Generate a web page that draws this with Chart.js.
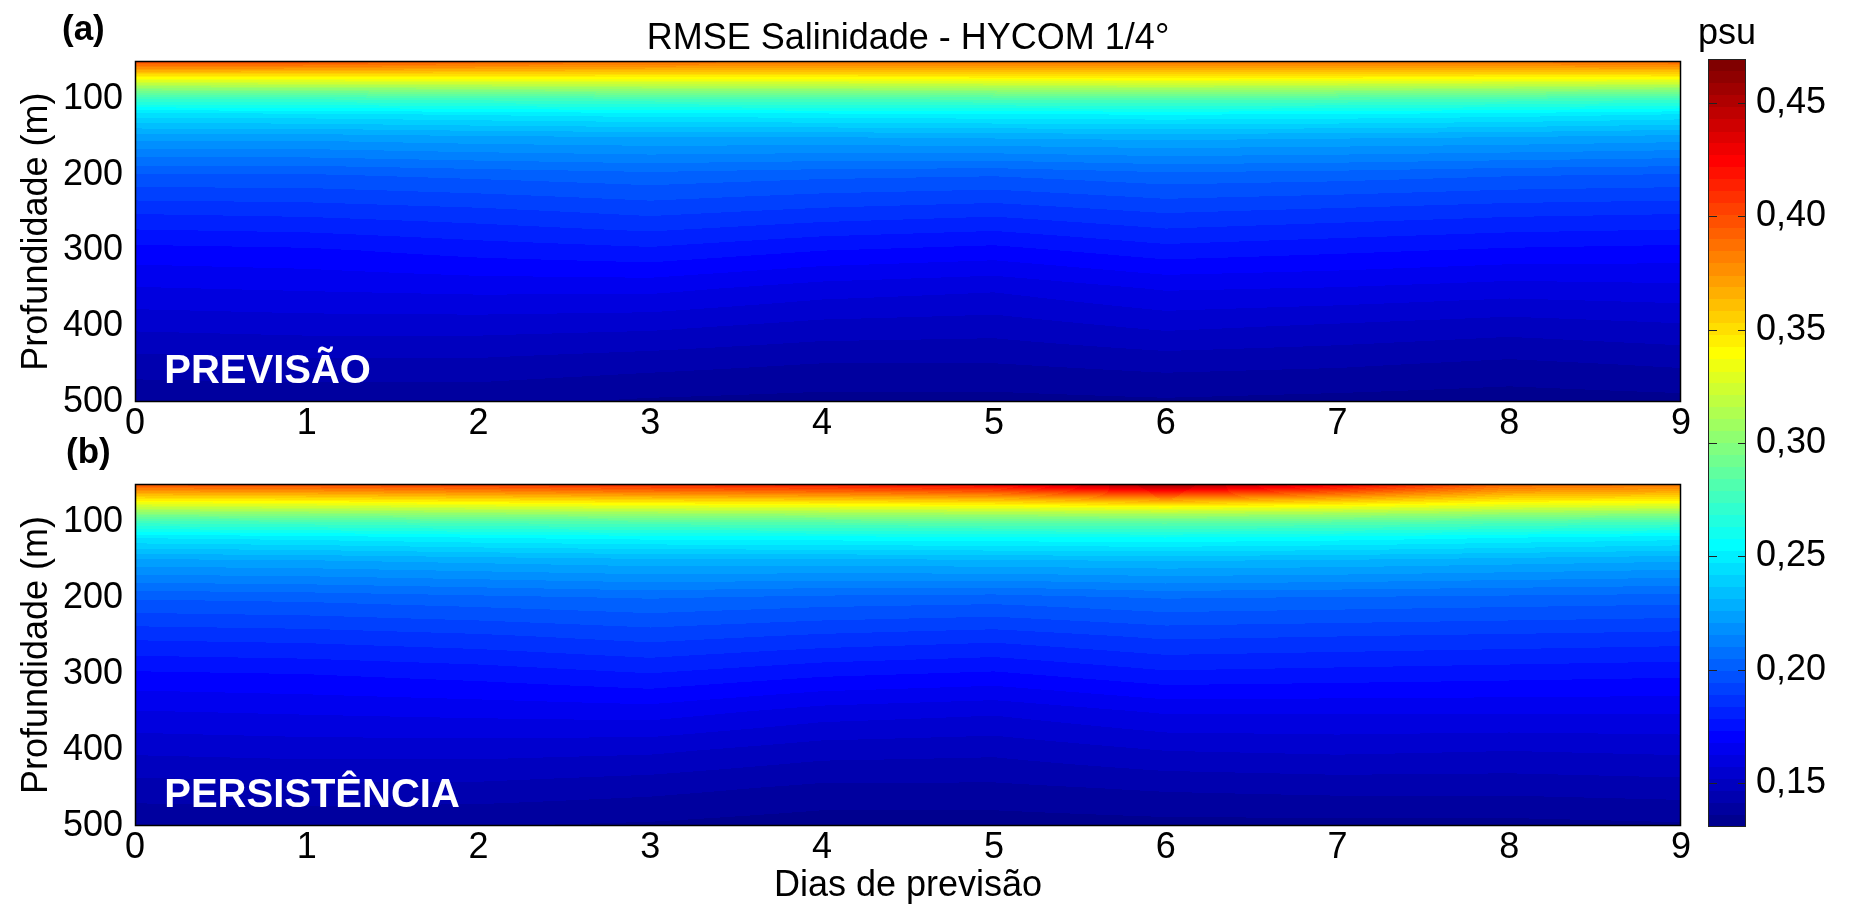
<!DOCTYPE html>
<html>
<head>
<meta charset="utf-8">
<title>RMSE Salinidade - HYCOM 1/4°</title>
<script src="https://cdn.jsdelivr.net/npm/chart.js@4.4.1/dist/chart.umd.min.js"></script>
<style>
  html, body { margin: 0; padding: 0; background: #fff; overflow: hidden; }
  #wrap { position: relative; width: 1857px; height: 914px; }
  canvas { position: absolute; }
</style>
</head>
<body>
<div id="wrap">
  <canvas id="panelA" width="1700" height="450" style="left:0;top:0"></canvas>
  <canvas id="panelB" width="1700" height="484" style="left:0;top:430px"></canvas>
  <canvas id="cbar" width="157" height="914" style="left:1700px;top:0"></canvas>
</div>
<script>
// forecast days (columns) and depth levels in metres (rows)
const days = [0, 1, 2, 3, 4, 5, 6, 7, 8, 9];
const depths = [50, 60, 70, 80, 90, 100, 120, 150, 200, 250, 300, 350, 400, 450, 500];

// RMSE of salinity (psu), one row per depth, one value per day - forecast
const rmsePrevisao = [
  [0.402, 0.400, 0.394, 0.389, 0.387, 0.386, 0.387, 0.386, 0.387, 0.392],
  [0.374, 0.373, 0.370, 0.368, 0.367, 0.367, 0.368, 0.367, 0.367, 0.369],
  [0.346, 0.346, 0.345, 0.345, 0.345, 0.346, 0.347, 0.346, 0.345, 0.345],
  [0.319, 0.320, 0.321, 0.322, 0.322, 0.323, 0.324, 0.323, 0.322, 0.320],
  [0.293, 0.294, 0.296, 0.298, 0.299, 0.300, 0.301, 0.300, 0.298, 0.295],
  [0.273, 0.274, 0.276, 0.278, 0.279, 0.280, 0.281, 0.280, 0.278, 0.275],
  [0.245, 0.246, 0.248, 0.250, 0.251, 0.252, 0.253, 0.252, 0.250, 0.247],
  [0.223, 0.223, 0.225, 0.226, 0.226, 0.227, 0.228, 0.227, 0.226, 0.224],
  [0.199, 0.199, 0.201, 0.203, 0.201, 0.200, 0.203, 0.202, 0.200, 0.199],
  [0.184, 0.185, 0.187, 0.190, 0.187, 0.185, 0.189, 0.187, 0.185, 0.184],
  [0.171, 0.172, 0.175, 0.177, 0.173, 0.171, 0.176, 0.174, 0.172, 0.171],
  [0.162, 0.163, 0.164, 0.164, 0.160, 0.158, 0.163, 0.162, 0.160, 0.161],
  [0.153, 0.154, 0.154, 0.153, 0.150, 0.149, 0.153, 0.151, 0.149, 0.151],
  [0.144, 0.145, 0.145, 0.143, 0.141, 0.141, 0.143, 0.142, 0.140, 0.142],
  [0.137, 0.137, 0.137, 0.135, 0.134, 0.134, 0.135, 0.134, 0.133, 0.134]
];

// same grid for the persistence run
const rmsePersistencia = [
  [0.400, 0.402, 0.407, 0.413, 0.418, 0.428, 0.462, 0.430, 0.392, 0.386],
  [0.373, 0.375, 0.380, 0.386, 0.390, 0.396, 0.418, 0.398, 0.372, 0.368],
  [0.347, 0.349, 0.353, 0.357, 0.360, 0.364, 0.376, 0.365, 0.350, 0.347],
  [0.322, 0.324, 0.327, 0.330, 0.332, 0.335, 0.340, 0.335, 0.327, 0.324],
  [0.297, 0.299, 0.302, 0.304, 0.306, 0.308, 0.310, 0.307, 0.302, 0.299],
  [0.276, 0.278, 0.281, 0.283, 0.285, 0.286, 0.287, 0.285, 0.281, 0.278],
  [0.248, 0.250, 0.253, 0.255, 0.256, 0.257, 0.258, 0.256, 0.253, 0.250],
  [0.225, 0.226, 0.228, 0.230, 0.230, 0.231, 0.232, 0.231, 0.229, 0.227],
  [0.200, 0.201, 0.203, 0.205, 0.203, 0.202, 0.205, 0.204, 0.203, 0.202],
  [0.185, 0.186, 0.188, 0.191, 0.188, 0.186, 0.190, 0.189, 0.188, 0.187],
  [0.172, 0.173, 0.175, 0.178, 0.174, 0.172, 0.177, 0.176, 0.175, 0.174],
  [0.162, 0.163, 0.164, 0.165, 0.160, 0.158, 0.163, 0.163, 0.163, 0.163],
  [0.153, 0.154, 0.154, 0.153, 0.149, 0.148, 0.152, 0.153, 0.152, 0.153],
  [0.144, 0.145, 0.145, 0.143, 0.140, 0.140, 0.142, 0.143, 0.143, 0.144],
  [0.137, 0.137, 0.136, 0.135, 0.133, 0.133, 0.134, 0.134, 0.134, 0.135]
];

// axis ticks and colour limits
const xTicks = [0, 1, 2, 3, 4, 5, 6, 7, 8, 9];
const yTicks = [100, 200, 300, 400, 500];
const cbarTicks = [0.15, 0.20, 0.25, 0.30, 0.35, 0.40, 0.45];
const cbarMin = 0.1306;
const cbarMax = 0.4694;

const family = "'Liberation Sans', Arial, Helvetica, sans-serif";
const tickFont = { family: family, size: 36, lineHeight: 1 };
const labelFont = { family: family, size: 36, weight: 'normal', lineHeight: 1.2 };

// matlab style jet colormap with m colours
function jet(m) {
  const n = Math.ceil(m / 4);
  const u = [];
  for (let i = 1; i <= n; i++) u.push(i / n);
  for (let i = 1; i < n; i++) u.push(1);
  for (let i = n; i >= 1; i--) u.push(i / n);
  const g0 = Math.ceil(n / 2) - (m % 4 === 1 ? 1 : 0);
  const map = [];
  for (let i = 0; i < m; i++) map.push([0, 0, 0]);
  u.forEach(function(val, k) {
    const g = g0 + k + 1, r = g + n, b = g - n;
    if (r <= m) map[r - 1][0] = val;
    if (g <= m) map[g - 1][1] = val;
    if (b >= 1) map[b - 1][2] = val;
  });
  return map.map(c => c.map(v => Math.round(v * 255)));
}
const colormap = jet(64);

function colorOf(v) {
  let k = Math.floor((v - cbarMin) / (cbarMax - cbarMin) * colormap.length);
  if (k < 0) k = 0;
  if (k > colormap.length - 1) k = colormap.length - 1;
  return colormap[k];
}

// index of the grid cell holding v and the fraction inside it
function findCell(arr, v) {
  if (v <= arr[0]) return [0, 0];
  for (let i = 0; i < arr.length - 1; i++) {
    if (v <= arr[i + 1]) return [i, (v - arr[i]) / (arr[i + 1] - arr[i])];
  }
  return [arr.length - 2, 1];
}

// paints the grid inside the chart area, pixel by pixel through the scales
function heatmapPlugin(grid, letter, letterPos, name) {
  return {
    id: 'heatmap',
    beforeDatasetsDraw(chart) {
      const { ctx, chartArea: a, scales: { x, y } } = chart;
      const left = Math.round(a.left), top = Math.round(a.top);
      const w = Math.round(a.right) - left, h = Math.round(a.bottom) - top;
      const off = document.createElement('canvas');
      off.width = w;
      off.height = h;
      const octx = off.getContext('2d');
      const img = octx.createImageData(w, h);
      const cols = [];
      for (let i = 0; i < w; i++) cols.push(findCell(days, x.getValueForPixel(left + i + 0.5)));
      for (let j = 0; j < h; j++) {
        const cell = findCell(depths, y.getValueForPixel(top + j + 0.5));
        const row0 = grid[cell[0]], row1 = grid[cell[0] + 1], ty = cell[1];
        for (let i = 0; i < w; i++) {
          const c = cols[i][0], tx = cols[i][1];
          const v0 = row0[c] + (row0[c + 1] - row0[c]) * tx;
          const v1 = row1[c] + (row1[c + 1] - row1[c]) * tx;
          const rgb = colorOf(v0 + (v1 - v0) * ty);
          const p = (j * w + i) * 4;
          img.data[p] = rgb[0];
          img.data[p + 1] = rgb[1];
          img.data[p + 2] = rgb[2];
          img.data[p + 3] = 255;
        }
      }
      octx.putImageData(img, 0, 0);
      ctx.drawImage(off, left, top);
    },
    afterDatasetsDraw(chart) {
      const { ctx, chartArea: a, scales: { x, y } } = chart;
      ctx.save();
      // box round the axes
      ctx.strokeStyle = '#000';
      ctx.lineWidth = 1.5;
      ctx.strokeRect(Math.round(a.left) + 0.5, Math.round(a.top) + 0.5,
        Math.round(a.right - a.left) - 1, Math.round(a.bottom - a.top) - 1);
      // panel name in white, bottom left
      ctx.fillStyle = '#fff';
      ctx.font = 'bold 40px ' + family;
      ctx.textAlign = 'left';
      ctx.textBaseline = 'alphabetic';
      ctx.fillText(name, x.getPixelForValue(0.17), y.getPixelForValue(475));
      // panel letter
      ctx.fillStyle = '#000';
      ctx.font = 'bold 35px ' + family;
      ctx.textBaseline = 'middle';
      ctx.fillText(letter, letterPos[0], letterPos[1]);
      ctx.restore();
    }
  };
}

function panelChart(id, grid, o) {
  return new Chart(document.getElementById(id), {
    type: 'scatter',
    data: { datasets: [] },
    options: {
      responsive: false,
      animation: false,
      events: [],
      layout: { padding: { left: 0, right: 19, top: o.padTop, bottom: 0 } },
      plugins: {
        legend: { display: false },
        tooltip: { enabled: false },
        title: o.title
      },
      scales: {
        x: {
          type: 'linear', min: 0, max: 9,
          grid: { display: false, drawTicks: false },
          border: { display: false },
          afterBuildTicks: s => { s.ticks = xTicks.map(v => ({ value: v })); },
          afterFit: s => { s.height = o.xHeight; },
          ticks: { font: tickFont, color: '#000', padding: 4, maxRotation: 0, autoSkip: false },
          title: o.xTitle
        },
        y: {
          type: 'linear', min: 50, max: 500, reverse: true,
          grid: { display: false, drawTicks: false },
          border: { display: false },
          afterBuildTicks: s => { s.ticks = yTicks.map(v => ({ value: v })); },
          afterFit: s => { s.width = 135; },
          ticks: { font: tickFont, color: '#000', padding: 12, autoSkip: false },
          title: { display: true, text: 'Profundidade (m)', color: '#000', font: labelFont, padding: { top: 15, bottom: 0 } }
        }
      }
    },
    plugins: [heatmapPlugin(grid, o.letter, o.letterPos, o.name)]
  });
}

panelChart('panelA', rmsePrevisao, {
  padTop: 0,
  xHeight: 48,
  letter: '(a)',
  letterPos: [62, 30],
  name: 'PREVISÃO',
  title: {
    display: true, text: 'RMSE Salinidade - HYCOM 1/4°', fullSize: false, color: '#000',
    font: labelFont, padding: { top: 17, bottom: 1 }
  },
  xTitle: { display: false }
});

panelChart('panelB', rmsePersistencia, {
  padTop: 54,
  xHeight: 88,
  letter: '(b)',
  letterPos: [66, 23],
  name: 'PERSISTÊNCIA',
  title: { display: false },
  xTitle: { display: true, text: 'Dias de previsão', color: '#000', font: labelFont, padding: { top: 0, bottom: 6 } }
});

// colour bar: 64 steps drawn through its own y scale, unit label above
const colorbarPlugin = {
  id: 'colorbar',
  beforeDatasetsDraw(chart) {
    const { ctx, chartArea: a, scales: { y } } = chart;
    const n = colormap.length;
    for (let k = 0; k < n; k++) {
      const lo = cbarMin + (cbarMax - cbarMin) * k / n;
      const hi = cbarMin + (cbarMax - cbarMin) * (k + 1) / n;
      const c = colormap[k];
      const y0 = y.getPixelForValue(hi), y1 = y.getPixelForValue(lo);
      ctx.fillStyle = 'rgb(' + c[0] + ',' + c[1] + ',' + c[2] + ')';
      ctx.fillRect(a.left, Math.floor(y0), a.right - a.left, Math.ceil(y1) - Math.floor(y0));
    }
    ctx.save();
    ctx.strokeStyle = '#222';
    ctx.lineWidth = 1;
    ctx.strokeRect(a.left + 0.5, a.top + 0.5, a.right - a.left - 1, a.bottom - a.top - 1);
    ctx.beginPath();
    cbarTicks.forEach(function(v) {
      const py = Math.round(y.getPixelForValue(v)) + 0.5;
      ctx.moveTo(a.left, py);
      ctx.lineTo(a.left + 9, py);
      ctx.moveTo(a.right - 8, py);
      ctx.lineTo(a.right, py);
    });
    ctx.stroke();
    ctx.fillStyle = '#000';
    ctx.font = '36px ' + family;
    ctx.textAlign = 'center';
    ctx.textBaseline = 'middle';
    ctx.fillText('psu', (a.left + a.right) / 2, 34);
    ctx.restore();
  }
};

new Chart(document.getElementById('cbar'), {
  type: 'scatter',
  data: { datasets: [] },
  options: {
    responsive: false,
    animation: false,
    events: [],
    layout: { padding: { left: 8, right: 0, top: 59, bottom: 87 } },
    plugins: {
      legend: { display: false },
      tooltip: { enabled: false }
    },
    scales: {
      x: { display: false, min: 0, max: 1 },
      y: {
        position: 'right', min: cbarMin, max: cbarMax,
        grid: { display: false, drawTicks: false },
        border: { display: false },
        afterBuildTicks: s => { s.ticks = cbarTicks.map(v => ({ value: v })); },
        afterFit: s => { s.width = 111; },
        ticks: { font: tickFont, color: '#000', padding: 10, callback: v => v.toFixed(2).replace('.', ',') }
      }
    }
  },
  plugins: [colorbarPlugin]
});
</script>
</body>
</html>
